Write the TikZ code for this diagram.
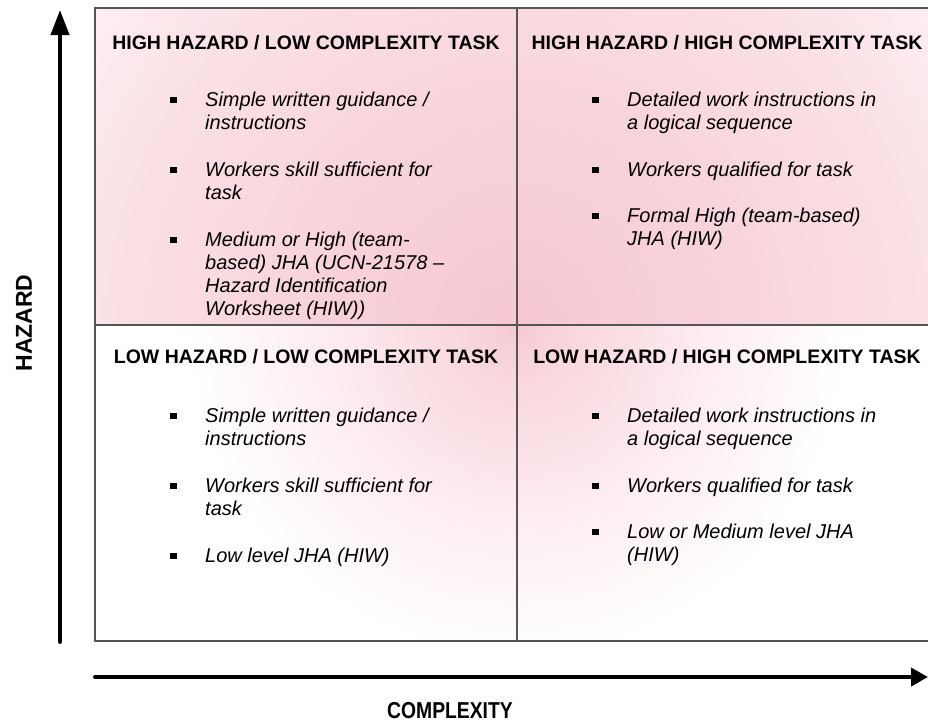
\documentclass[tikz,border=0pt]{standalone}
\usepackage{fontspec}
\setmainfont{Liberation Sans}
\newfontfamily\narrowfont[FakeStretch=0.84]{Liberation Sans}
\usetikzlibrary{arrows.meta}

% quadrant fills: strong pink at the centre of the grid, fading outwards.
% \shade stretches 50bp of a shading over the full width of the path, so on
% the 1200pt wide circle used below 1bp of these stops stands for 24pt.
\pgfdeclareradialshading{upperfade}{\pgfpointorigin}{%
  rgb(0bp)=(0.965,0.785,0.830);
  rgb(8.3bp)=(0.972,0.825,0.858);
  rgb(16.7bp)=(0.982,0.880,0.900);
  rgb(22bp)=(0.992,0.935,0.948);
  rgb(50bp)=(0.992,0.935,0.948)}
\pgfdeclareradialshading{lowerfade}{\pgfpointorigin}{%
  rgb(0bp)=(0.965,0.790,0.835);
  rgb(2.1bp)=(0.975,0.840,0.870);
  rgb(7.5bp)=(0.990,0.920,0.935);
  rgb(13.75bp)=(1,1,1);
  rgb(50bp)=(1,1,1)}

\newcommand\bulletat[1]{\fill[black] ([shift={(-35,-9.5)}]#1.base west) rectangle ++(6.5,6.5);}

\begin{document}
\begin{tikzpicture}[x=1pt,y=-1pt,
  gridline/.style={draw={rgb,255:red,85;green,85;blue,85}, line width=1.3pt},
  axisline/.style={line width=4pt, line cap=round},
  hdr/.style={anchor=base, inner sep=0pt, font=\fontsize{19.5}{22}\selectfont\bfseries},
  itm/.style={anchor=base west, inner sep=0pt, font=\fontsize{20}{23.3}\selectfont\itshape},
  axislabel/.style={inner sep=0pt, font=\fontsize{23}{26}\selectfont\bfseries}]

\useasboundingbox (0,0) rectangle (928,721);
\clip (0,0) rectangle (928,721);
\fill[white] (0,0) rectangle (928,721);

% quadrant shadings, all centred on the middle of the grid
\begin{scope}
  \clip (95,8) rectangle (517,325);
  \shade[shading=upperfade] (517,325) circle[radius=600pt];
\end{scope}
\begin{scope}
  \clip (517,8) rectangle (937,325);
  \shade[shading=upperfade] (517,325) circle[radius=600pt];
\end{scope}
\begin{scope}
  \clip (95,325) rectangle (517,641);
  \shade[shading=lowerfade] (517,325) circle[radius=600pt];
\end{scope}
\begin{scope}
  \clip (517,325) rectangle (937,641);
  \shade[shading=lowerfade] (517,325) circle[radius=600pt];
\end{scope}

% grid
\draw[gridline] (95,8) rectangle (937,641);
\draw[gridline] (517,8) -- (517,641);
\draw[gridline] (95,325) -- (937,325);

% axes
\coordinate (hazbot) at (60,642);
\coordinate (haztop) at (60,10);
\coordinate (cpxleft) at (95,677);
\coordinate (cpxright) at (928,677);
\draw[axisline, -{Triangle[length=25pt,width=18pt]}] (hazbot) -- (haztop);
\draw[axisline, -{Triangle[length=17pt,width=18pt]}] (cpxleft) -- (cpxright);

\node[axislabel, rotate=90] (hazlbl) at (24,323) {HAZARD};
\node[axislabel, anchor=base] (cpxlbl) at (450,718) {\narrowfont\bfseries COMPLEXITY};

% headers
\node[hdr] (tlh) at (306,49) {HIGH HAZARD / LOW COMPLEXITY TASK};
\node[hdr] (trh) at (727,49) {HIGH HAZARD / HIGH COMPLEXITY TASK};
\node[hdr] (blh) at (306,363) {LOW HAZARD / LOW COMPLEXITY TASK};
\node[hdr] (brh) at (727,363) {LOW HAZARD / HIGH COMPLEXITY TASK};

% high hazard / low complexity
\node[itm] (tl1) at (205,106) {\begin{tabular}[t]{@{}l@{}}Simple written guidance /\\instructions\end{tabular}};
\node[itm] (tl2) at (205,176) {\begin{tabular}[t]{@{}l@{}}Workers skill sufficient for\\task\end{tabular}};
\node[itm] (tl3) at (205,246) {\begin{tabular}[t]{@{}l@{}}Medium or High (team-\\based) JHA (UCN-21578 –\\Hazard Identification\\Worksheet (HIW))\end{tabular}};

% high hazard / high complexity
\node[itm] (tr1) at (627,106) {\begin{tabular}[t]{@{}l@{}}Detailed work instructions in\\a logical sequence\end{tabular}};
\node[itm] (tr2) at (627,176) {\begin{tabular}[t]{@{}l@{}}Workers qualified for task\end{tabular}};
\node[itm] (tr3) at (627,222) {\begin{tabular}[t]{@{}l@{}}Formal High (team-based)\\JHA (HIW)\end{tabular}};

% low hazard / low complexity
\node[itm] (bl1) at (205,422) {\begin{tabular}[t]{@{}l@{}}Simple written guidance /\\instructions\end{tabular}};
\node[itm] (bl2) at (205,492) {\begin{tabular}[t]{@{}l@{}}Workers skill sufficient for\\task\end{tabular}};
\node[itm] (bl3) at (205,562) {\begin{tabular}[t]{@{}l@{}}Low level JHA (HIW)\end{tabular}};

% low hazard / high complexity
\node[itm] (br1) at (627,422) {\begin{tabular}[t]{@{}l@{}}Detailed work instructions in\\a logical sequence\end{tabular}};
\node[itm] (br2) at (627,492) {\begin{tabular}[t]{@{}l@{}}Workers qualified for task\end{tabular}};
\node[itm] (br3) at (627,538) {\begin{tabular}[t]{@{}l@{}}Low or Medium level JHA\\(HIW)\end{tabular}};

% bullets
\foreach \n in {tl1,tl2,tl3,tr1,tr2,tr3,bl1,bl2,bl3,br1,br2,br3}{\bulletat{\n}}

\end{tikzpicture}
\end{document}
